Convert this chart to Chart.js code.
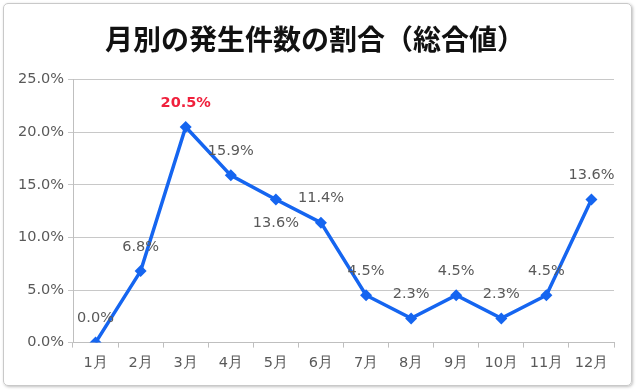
<!DOCTYPE html>
<html>
<head>
<meta charset="utf-8">
<script src="https://cdn.jsdelivr.net/npm/chart.js@4/dist/chart.umd.min.js"></script>
<style>
  body { margin: 0; background: #fff; }
  #frame {
    position: absolute; left: 3px; top: 3px; width: 627px; height: 381px;
    border: 1px solid #c9c9c9; border-radius: 5px;
    box-shadow: 1px 1px 3px rgba(0,0,0,0.25);
  }
  #wrap { position: absolute; left: 0; top: 0; width: 638px; height: 391px; }
</style>
</head>
<body>
<div id="frame"></div>
<div id="wrap"><canvas id="monthly" width="638" height="391"></canvas></div>
<script>
const months = ["1月", "2月", "3月", "4月", "5月", "6月", "7月", "8月", "9月", "10月", "11月", "12月"];
const share = [0.0, 6.8, 20.5, 15.9, 13.6, 11.4, 4.5, 2.3, 4.5, 2.3, 4.5, 13.6];
const labelSide = ["above", "above", "above", "above", "below", "above", "above", "above", "above", "above", "above", "above"];
const highlight = [2];

const FONT = "'DejaVu Sans', Verdana, sans-serif";
const LINE_BLUE = "#1565f0";

// point value labels, drawn like excel's data labels
const valueLabels = {
    id: "valueLabels",
    afterDatasetsDraw(chart) {
        const ctx = chart.ctx;
        const meta = chart.getDatasetMeta(0);
        ctx.save();
        ctx.textAlign = "center";
        ctx.textBaseline = "middle";
        meta.data.forEach((pt, i) => {
            const hot = highlight.includes(i);
            ctx.font = (hot ? "bold " : "") + "14.5px " + FONT;
            ctx.fillStyle = hot ? "#f0203c" : "#595959";
            const dy = labelSide[i] === "below" ? 24 : -24;
            ctx.fillText(share[i].toFixed(1) + "%", pt.x, pt.y + dy);
        });
        ctx.restore();
    },
};

const ctx = document.getElementById("monthly").getContext("2d");

var monthChart = new Chart(ctx, {
    type: "line",
    data: {
        labels: months,
        datasets: [
            {
                data: share,
                borderColor: LINE_BLUE,
                backgroundColor: LINE_BLUE,
                borderWidth: 3.5,
                pointStyle: "rectRot",
                pointRadius: 6,
                pointBorderWidth: 0,
                tension: 0,
                fill: false,
            },
        ],
    },
    options: {
        responsive: false,
        animation: false,
        layout: {
            padding: { left: 16, right: 24, top: 0, bottom: 12 },
        },
        plugins: {
            legend: { display: false },
            tooltip: { enabled: false },
            title: {
                display: true,
                text: "月別の発生件数の割合（総合値）",
                color: "#111",
                font: { family: "'Noto Sans CJK JP', sans-serif", size: 28, weight: "bold" },
                padding: { top: 23, bottom: 23 },
            },
        },
        scales: {
            x: {
                offset: true,
                grid: {
                    offset: true,
                    drawOnChartArea: false,
                    drawTicks: true,
                    tickLength: 5,
                    color: "#bfbfbf",
                },
                border: { color: "#bfbfbf", width: 1 },
                ticks: {
                    color: "#595959",
                    font: { family: FONT, size: 14.5 },
                    padding: 7,
                    maxRotation: 0,
                },
            },
            y: {
                min: 0,
                max: 25,
                afterFit(scale) {
                    scale.width = 57;
                },
                grid: {
                    color: "#c8c8c8",
                    tickLength: 5,
                },
                border: { color: "#bfbfbf", width: 1 },
                ticks: {
                    stepSize: 5,
                    color: "#595959",
                    font: { family: FONT, size: 14.5 },
                    padding: 4,
                    callback: (v) => v.toFixed(1) + "%",
                },
            },
        },
    },
    plugins: [valueLabels],
});
monthChart.update();
</script>
</body>
</html>
